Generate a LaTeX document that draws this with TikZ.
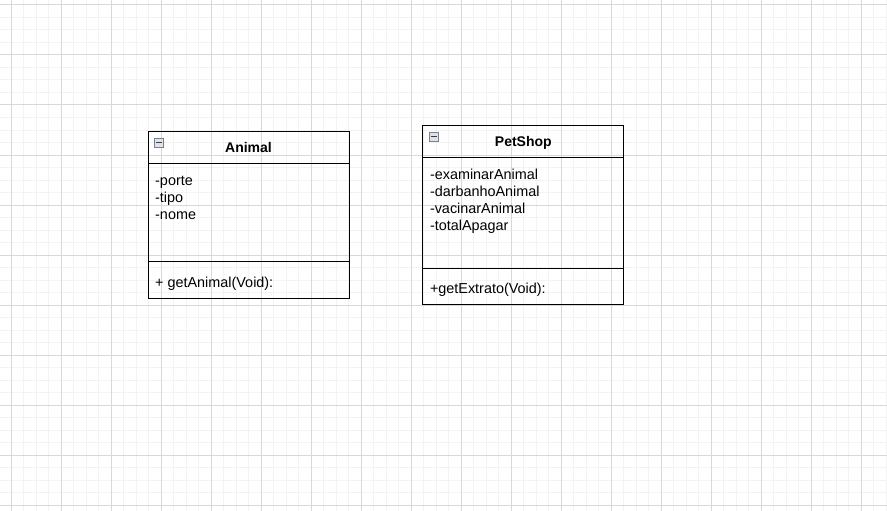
\documentclass[tikz,border=0pt]{standalone}
\usepackage{fontspec}
\setmainfont{Liberation Sans}
\usetikzlibrary{positioning}
\definecolor{gridmajor}{RGB}{216,216,216}
\definecolor{gridminor}{RGB}{243,243,243}
\definecolor{iconfill}{RGB}{222,227,233}
\definecolor{iconline}{RGB}{120,130,142}
\definecolor{iconminus}{RGB}{60,60,60}

\begin{document}
\begin{tikzpicture}[x=1pt,y=-1pt,
    classbox/.style={draw=black,line width=1pt,minimum width=201pt,inner sep=0pt,outer sep=0pt},
    classtitle/.style={anchor=base,inner sep=0pt,font=\bfseries\fontsize{14}{17}\selectfont},
    member/.style={anchor=base west,inner sep=0pt,font=\fontsize{14.4}{17}\selectfont},
    collapse/.style={draw=iconline,fill=iconfill,line width=0.8pt,minimum size=9pt,inner sep=0pt}]
    \useasboundingbox (0,0) rectangle (887,511);
    \fill[white] (0,0) rectangle (887,511);
    % grid
    \foreach \i in {0,...,71} \draw[gridminor,line width=1pt] (-1.2+12.5*\i,0) -- ++(0,511);
    \foreach \j in {0,...,41} \draw[gridminor,line width=1pt] (0,-7.5+12.5*\j) -- ++(887,0);
    \foreach \i in {0,...,17} \draw[gridmajor,line width=1pt] (11.3+50*\i,0) -- ++(0,511);
    \foreach \j in {0,...,10} \draw[gridmajor,line width=1pt] (0,5+50*\j) -- ++(887,0);

    % class Animal
    \node[classbox,minimum height=32pt] (animal) at (248.5,147) {};
    \node[classbox,minimum height=98pt,below=0pt of animal] (animalattr) {};
    \node[classbox,minimum height=37pt,below=0pt of animalattr] (animalops) {};
    \node[classtitle] (animaltitle) at ([yshift=-5.7pt]animal.center) {Animal};
    \node[collapse] (animalicon) at ([xshift=11pt,yshift=-11.5pt]animal.north west) {};
    \draw[iconminus,line width=1.3pt] ([xshift=2pt]animalicon.west) -- ([xshift=-2pt]animalicon.east);
    \node[member] (porte) at ([xshift=7pt,yshift=-22pt]animalattr.north west) {-porte};
    \node[member] (tipo) at ([yshift=-17pt]porte.base west) {-tipo};
    \node[member] (nome) at ([yshift=-17pt]tipo.base west) {-nome};
    \node[member] (getanimal) at ([xshift=7pt,yshift=-26.5pt]animalops.north west) {+ getAnimal(Void):};

    % class PetShop
    \node[classbox,minimum height=32pt] (petshop) at (523.3,141) {};
    \node[classbox,minimum height=111pt,below=0pt of petshop] (petshopattr) {};
    \node[classbox,minimum height=36pt,below=0pt of petshopattr] (petshopops) {};
    \node[classtitle] (petshoptitle) at ([yshift=-5.7pt]petshop.center) {PetShop};
    \node[collapse] (petshopicon) at ([xshift=11pt,yshift=-11.5pt]petshop.north west) {};
    \draw[iconminus,line width=1.3pt] ([xshift=2pt]petshopicon.west) -- ([xshift=-2pt]petshopicon.east);
    \node[member] (examinar) at ([xshift=7pt,yshift=-22pt]petshopattr.north west) {-examinarAnimal};
    \node[member] (darbanho) at ([yshift=-17.3pt]examinar.base west) {-darbanhoAnimal};
    \node[member] (vacinar) at ([yshift=-17.3pt]darbanho.base west) {-vacinarAnimal};
    \node[member] (totalapagar) at ([yshift=-17.3pt]vacinar.base west) {-totalApagar};
    \node[member] (getextrato) at ([xshift=7pt,yshift=-25pt]petshopops.north west) {+getExtrato(Void):};
\end{tikzpicture}
\end{document}
